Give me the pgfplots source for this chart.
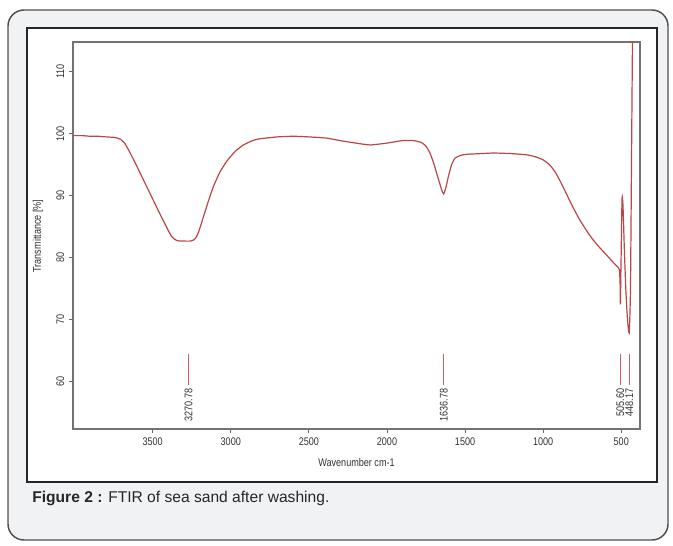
\documentclass[border=0pt]{standalone}
\usepackage{fontspec}
\setmainfont{Liberation Sans}
\newfontfamily\narrowfont{Liberation Sans}[FakeStretch=0.82]
\usepackage{pgfplots}
\pgfplotsset{compat=1.18}
\definecolor{curvec}{RGB}{186,70,72}
\definecolor{peakc}{RGB}{205,95,105}
\definecolor{panelc}{RGB}{241,242,244}
\definecolor{framec}{RGB}{80,80,80}
\definecolor{inkc}{RGB}{50,50,50}
\newcommand{\tickfont}{\narrowfont\fontsize{8.3}{9}\selectfont}

% FTIR spectrum, wavenumber (cm-1) vs transmittance (%)
\pgfplotstableread{
wn T
4005 99.7
3950 99.7
3900 99.6
3850 99.6
3800 99.5
3740 99.4
3705 99.1
3680 98.5
3650 97.2
3600 94.7
3550 92.1
3500 89.5
3450 86.9
3420 85.4
3400 84.4
3380 83.5
3360 83.0
3340 82.75
3300 82.7
3260 82.7
3240 82.85
3225 83.2
3210 83.9
3195 85.0
3175 86.6
3140 89.4
3111 91.5
3070 93.8
3025 95.6
2970 97.2
2919 98.2
2860 98.9
2812 99.2
2700 99.5
2598 99.6
2500 99.5
2385 99.3
2299 98.9
2200 98.5
2107 98.2
2000 98.5
1900 98.9
1830 98.9
1780 98.6
1750 98.0
1725 96.9
1700 95.2
1672 92.8
1650 91.0
1637 90.3
1622 91.4
1606 93.2
1585 95.1
1563 96.1
1530 96.5
1488 96.7
1400 96.8
1318 96.9
1200 96.8
1104 96.6
1050 96.3
1000 95.8
955 94.9
915 93.5
870 91.3
820 88.7
770 86.3
720 84.3
680 82.9
640 81.7
600 80.6
560 79.5
530 78.7
512 78.1
507 75.5
505.6 72.6
501 80.0
495 89.6
489 88.5
481 82.0
471 75.0
460 70.0
449 67.9
441 75.0
433 100.0
428 116.0
}\spectrum

\begin{document}
\begin{tikzpicture}
% page decoration, in pixel units (origin top left)
\begin{scope}[x=0.75pt, y=-0.75pt]
  \path[use as bounding box, fill=white] (0,0) rectangle (673,545);
  \draw[framec, line width=1.1pt, fill=panelc, rounded corners=12pt] (8,10) rectangle (668,540);
  \draw[black!85, line width=2.1pt, fill=white] (27,28) rectangle (657,482);
  \node[anchor=base west, inner sep=0pt, font=\fontsize{11.7}{13}\selectfont, text=black!85]
    at (32,502) {\textbf{Figure 2 :} FTIR of sea sand after washing.};
  \node[font=\tickfont, text=inkc] at (356.5,463) {Wavenumber cm-1};
  \node[font=\tickfont, text=inkc, rotate=90] at (38,236) {Transmittance [\%]};
\end{scope}

\begin{axis}[
  at={(54.75pt,-321.75pt)}, anchor=south west,
  scale only axis, width=425.25pt, height=290.25pt,
  x dir=reverse, xmin=380, xmax=4010, ymin=52.4, ymax=114.8,
  xtick={500,1000,...,3500}, ytick={60,70,...,110},
  tick align=outside, xtick pos=bottom, ytick pos=left,
  major tick length=3pt,
  axis line style={black!55, line width=0.8pt},
  tick style={black!60, line width=0.6pt},
  ticklabel style={font=\tickfont, text=inkc},
  yticklabel style={rotate=90, anchor=south},
  scaled ticks=false,
  /pgf/number format/assume math mode=true,
  /pgf/number format/set thousands separator={},
  clip mode=individual,
]
  \addplot[curvec, line width=0.9pt, smooth, tension=0.3] table[x=wn, y=T] {\spectrum};
  % peak markers
  \addplot[peakc, line width=0.7pt] coordinates {(3270.78,64.5) (3270.78,59.5)};
  \addplot[peakc, line width=0.7pt] coordinates {(1636.78,64.5) (1636.78,59.5)};
  \addplot[peakc, line width=0.7pt] coordinates {(505.60,64.5) (505.60,59.5)};
  \addplot[peakc, line width=0.7pt] coordinates {(448.17,64.5) (448.17,59.5)};
  \node[rotate=90, anchor=east, inner sep=0.5pt, font=\tickfont, text=inkc] at (axis cs:3270.78,59.1) {3270.78};
  \node[rotate=90, anchor=east, inner sep=0.5pt, font=\tickfont, text=inkc] at (axis cs:1636.78,59.1) {1636.78};
  \node[rotate=90, anchor=east, inner sep=0.5pt, font=\tickfont, text=inkc] at (axis cs:505.60,59.1) {505.60};
  \node[rotate=90, anchor=east, inner sep=0.5pt, font=\tickfont, text=inkc] at (axis cs:448.17,59.1) {448.17};
\end{axis}
\end{tikzpicture}
\end{document}
